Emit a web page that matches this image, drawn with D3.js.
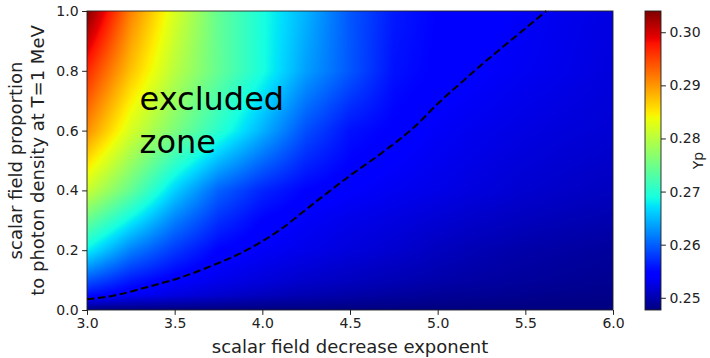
<!DOCTYPE html>
<html>
<head>
<meta charset="utf-8">
<script src="https://cdn.jsdelivr.net/npm/d3@7"></script>
<style>
  body { margin: 0; background: #fff; }
  text { font-family: "DejaVu Sans", sans-serif; fill: #222; }
</style>
</head>
<body>
<script>
// grid columns (scalar field decrease exponent) and rows (scalar field proportion)
const nVals = [3.0, 3.25, 3.5, 3.75, 4.0, 4.25, 4.5, 4.75, 5.0, 5.25, 5.5, 5.75, 6.0];
const pVals = [0, 0.05, 0.1, 0.2, 0.3, 0.4, 0.6, 0.8, 1.0];

// Yp, one array per row of p
const ypP000 = [0.2477, 0.2477, 0.2477, 0.2477, 0.2477, 0.2477, 0.2477, 0.2477, 0.2477, 0.2477, 0.2477, 0.2477, 0.2477];
const ypP005 = [0.2553, 0.2536, 0.2525, 0.2516, 0.2508, 0.2502, 0.2497, 0.2493, 0.2489, 0.2487, 0.2485, 0.2483, 0.2482];
const ypP010 = [0.2595, 0.2561, 0.2541, 0.2530, 0.2522, 0.2514, 0.2508, 0.2503, 0.2498, 0.2494, 0.2491, 0.2488, 0.2486];
const ypP020 = [0.2680, 0.2618, 0.2578, 0.2547, 0.2536, 0.2529, 0.2522, 0.2516, 0.2508, 0.2502, 0.2497, 0.2494, 0.2491];
const ypP030 = [0.2745, 0.2680, 0.2618, 0.2573, 0.2547, 0.2536, 0.2529, 0.2524, 0.2518, 0.2512, 0.2507, 0.2503, 0.2500];
const ypP040 = [0.2812, 0.2742, 0.2663, 0.2601, 0.2567, 0.2547, 0.2539, 0.2533, 0.2528, 0.2522, 0.2516, 0.2512, 0.2508];
const ypP060 = [0.2905, 0.2820, 0.2759, 0.2702, 0.2646, 0.2590, 0.2556, 0.2545, 0.2536, 0.2530, 0.2525, 0.2521, 0.2518];
const ypP080 = [0.2966, 0.2874, 0.2800, 0.2742, 0.2691, 0.2635, 0.2595, 0.2556, 0.2545, 0.2539, 0.2533, 0.2528, 0.2522];
const ypP100 = [0.3040, 0.2912, 0.2822, 0.2742, 0.2691, 0.2646, 0.2595, 0.2561, 0.2547, 0.2542, 0.2536, 0.2530, 0.2525];
const ypGrid = [ypP000, ypP005, ypP010, ypP020, ypP030, ypP040, ypP060, ypP080, ypP100];

// dashed limit line
const contourN = [3.0, 3.15, 3.34, 3.53, 3.72, 3.91, 4.10, 4.29, 4.49, 4.69, 4.88, 5.0, 5.13, 5.27, 5.42, 5.62];
const contourP = [0.036, 0.048, 0.076, 0.108, 0.15, 0.2, 0.268, 0.355, 0.445, 0.529, 0.619, 0.69, 0.758, 0.83, 0.903, 1.0];

const xTicks = [3.0, 3.5, 4.0, 4.5, 5.0, 5.5, 6.0];
const yTicks = [0.0, 0.2, 0.4, 0.6, 0.8, 1.0];
const cbTicks = [0.25, 0.26, 0.27, 0.28, 0.29, 0.30];

const width = 710, height = 358;
const margin = {left: 87, top: 11};
const W = 526, H = 299;

const svg = d3.select("body").append("svg")
    .attr("width", width)
    .attr("height", height);

const x = d3.scaleLinear().domain([3, 6]).range([0, W]);
const y = d3.scaleLinear().domain([0, 1]).range([H, 0]);

// matplotlib jet
const jr = d3.scaleLinear().domain([0, 0.35, 0.66, 0.89, 1]).range([0, 0, 1, 1, 0.5]).clamp(true);
const jg = d3.scaleLinear().domain([0, 0.125, 0.375, 0.64, 0.91, 1]).range([0, 0, 1, 1, 0, 0]).clamp(true);
const jb = d3.scaleLinear().domain([0, 0.11, 0.34, 0.65, 1]).range([0.5, 1, 1, 0, 0]).clamp(true);
const jet = t => d3.rgb(jr(t) * 255, jg(t) * 255, jb(t) * 255).toString();

const extent = d3.extent(ypGrid.flat());
const color = d3.scaleSequential(jet).domain(extent);

function cellIndex(arr, v) {
    let i = d3.bisectRight(arr, v) - 1;
    return Math.max(0, Math.min(i, arr.length - 2));
}

function gridValue(n, p) {
    const i = cellIndex(nVals, n), k = cellIndex(pVals, p);
    const tx = Math.max(0, Math.min(1, (n - nVals[i]) / (nVals[i + 1] - nVals[i])));
    const ty = Math.max(0, Math.min(1, (p - pVals[k]) / (pVals[k + 1] - pVals[k])));
    const a = ypGrid[k][i], b = ypGrid[k][i + 1];
    const c = ypGrid[k + 1][i], d = ypGrid[k + 1][i + 1];
    return (a * (1 - tx) + b * tx) * (1 - ty) + (c * (1 - tx) + d * tx) * ty;
}

// heatmap image
const cv = document.createElement("canvas");
cv.width = W; cv.height = H;
const ctx = cv.getContext("2d");
const img = ctx.createImageData(W, H);
for (let j = 0; j < H; j++) {
    const p = y.invert(j + 0.5);
    for (let i = 0; i < W; i++) {
        const n = x.invert(i + 0.5);
        const c = d3.rgb(color(gridValue(n, p)));
        const o = (j * W + i) * 4;
        img.data[o] = c.r; img.data[o + 1] = c.g; img.data[o + 2] = c.b; img.data[o + 3] = 255;
    }
}
ctx.putImageData(img, 0, 0);

const g = svg.append("g").attr("transform", `translate(${margin.left},${margin.top})`);

g.append("image")
    .attr("x", x(3)).attr("y", y(1))
    .attr("width", x(6) - x(3)).attr("height", y(0) - y(1))
    .attr("preserveAspectRatio", "none")
    .attr("href", cv.toDataURL());

// contour line
const line = d3.line()
    .x((d, i) => x(contourN[i]))
    .y((d, i) => y(contourP[i]))
    .curve(d3.curveMonotoneX);
g.append("path")
    .attr("d", line(contourN))
    .attr("fill", "none")
    .attr("stroke", "#000")
    .attr("stroke-width", 2)
    .attr("stroke-dasharray", "7.5,3.5");

// label inside
const note = g.append("text")
    .attr("x", x(3.3))
    .attr("font-size", 32)
    .style("fill", "#000");
note.append("tspan").attr("x", x(3.3)).attr("y", y(0.668)).text("excluded");
note.append("tspan").attr("x", x(3.3)).attr("y", y(0.525)).text("zone");

// frame
g.append("rect")
    .attr("width", W).attr("height", H)
    .attr("fill", "none").attr("stroke", "#222").attr("stroke-width", 0.9);

// axes
const xAxis = g.append("g")
    .attr("transform", `translate(0,${H})`)
    .call(d3.axisBottom(x).tickValues(xTicks).tickFormat(d3.format(".1f")).tickSize(4.9).tickPadding(3.5));
const yAxis = g.append("g")
    .call(d3.axisLeft(y).tickValues(yTicks).tickFormat(d3.format(".1f")).tickSize(4.9).tickPadding(3.5));
[xAxis, yAxis].forEach(a => {
    a.select(".domain").remove();
    a.selectAll("text").attr("font-size", 14).attr("font-family", "DejaVu Sans");
    a.selectAll("line").attr("stroke", "#222");
});

g.append("text")
    .attr("x", W / 2).attr("y", H + 43)
    .attr("text-anchor", "middle")
    .attr("font-size", 18)
    .text("scalar field decrease exponent");

const yl = g.append("text")
    .attr("transform", `translate(-65,${H / 2}) rotate(-90)`)
    .attr("text-anchor", "middle")
    .attr("font-size", 18);
yl.append("tspan").attr("x", 0).attr("dy", 0).text("scalar field proportion");
yl.append("tspan").attr("x", 0).attr("dy", 22).text("to photon density at T=1 MeV");

// colorbar
const cbX = 645, cbW = 16;
const cbScale = d3.scaleLinear().domain(extent).range([margin.top + H, margin.top]);
const defs = svg.append("defs");
const grad = defs.append("linearGradient")
    .attr("id", "cbgrad")
    .attr("x1", 0).attr("y1", 1).attr("x2", 0).attr("y2", 0);
grad.selectAll("stop")
    .data(d3.range(0, 1.0001, 0.01))
    .enter().append("stop")
    .attr("offset", d => d)
    .attr("stop-color", d => jet(d));

svg.append("rect")
    .attr("x", cbX).attr("y", margin.top)
    .attr("width", cbW).attr("height", H)
    .attr("fill", "url(#cbgrad)")
    .attr("stroke", "#222").attr("stroke-width", 0.9);

const cbAxis = svg.append("g")
    .attr("transform", `translate(${cbX + cbW},0)`)
    .call(d3.axisRight(cbScale).tickValues(cbTicks).tickFormat(d3.format(".2f")).tickSize(4.9).tickPadding(3.5));
cbAxis.select(".domain").remove();
cbAxis.selectAll("text").attr("font-size", 14).attr("font-family", "DejaVu Sans");
cbAxis.selectAll("line").attr("stroke", "#222");

svg.append("text")
    .attr("transform", `translate(703,${margin.top + H / 2}) rotate(-90)`)
    .attr("text-anchor", "middle")
    .attr("font-size", 14)
    .text("Yp");
</script>
</body>
</html>
